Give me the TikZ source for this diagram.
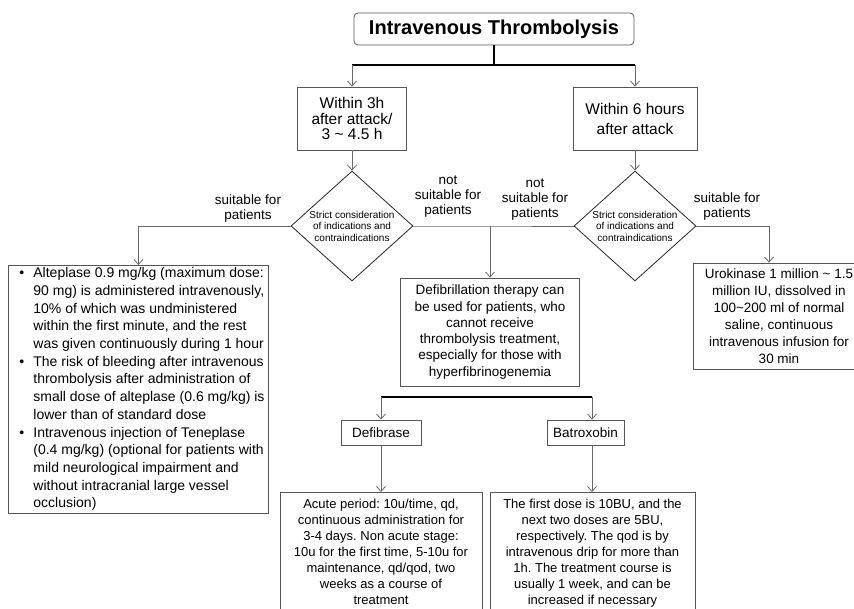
\documentclass[tikz,border=0pt]{standalone}
\usepackage{fontspec}
\setmainfont{Liberation Sans}
\usetikzlibrary{shapes.geometric,arrows.meta}
\definecolor{lc}{RGB}{105,105,105}
\definecolor{bc}{RGB}{85,85,85}
\frenchspacing
\begin{document}
\frenchspacing
\begin{tikzpicture}[x=1pt,y=-1pt,
 box/.style={draw=bc, line width=0.8pt, align=center, inner sep=0pt},
 arr/.style={draw=lc, line width=0.8pt, -{Straight Barb[length=5pt,width=9pt]}},
 ln/.style={draw=lc, line width=0.8pt},
 thk/.style={draw=black, line width=1.6pt},
 lab/.style={align=center, font=\fontsize{13.5}{15}\selectfont, inner sep=0pt},
 dia/.style={draw=black!85, line width=0.8pt, diamond, aspect=1.1, inner sep=0pt,
   minimum width=122pt, minimum height=110pt, align=center,
   font=\fontsize{10}{11.5}\selectfont},
]
\useasboundingbox (0,0) rectangle (854,608);
\begin{scope}
\clip (0,0) rectangle (854,608);
% nodes
\node[box, rounded corners=4pt, minimum width=280pt, minimum height=32pt,
  font=\fontsize{20}{24}\selectfont\bfseries] (title) at (494,29) {Intravenous Thrombolysis};
\node[box, minimum width=109pt, minimum height=63pt, font=\fontsize{15.5}{15.5}\selectfont]
  (w3) at (352,118.5) {Within 3h\\after attack/\\3 \textasciitilde{} 4.5 h};
\node[box, minimum width=124pt, minimum height=63pt, font=\fontsize{15.5}{20}\selectfont]
  (w6) at (635,118.5) {Within 6 hours\\after attack};
\node[dia] (d1) at (352,226) {Strict consideration\\of indications and\\contraindications};
\node[dia] (d2) at (635,226) {Strict consideration\\of indications and\\contraindications};
\node[lab] (ls) at (248,209) {suitable for\\patients};
\node[lab] (ln1) at (448,197) {not\\suitable for\\patients};
\node[lab] (ln2) at (535,200) {not\\suitable for\\patients};
\node[lab] (rs) at (727,207) {suitable for\\patients};
\node[box, anchor=north west, minimum height=240pt, font=\fontsize{14}{17.7}\selectfont]
  (alt) at (8,265) {\makebox[260pt][l]{\begin{tabular}{@{\hspace{11pt}}l@{}l@{}}
\makebox[14pt][l]{\textbullet} & Alteplase 0.9 mg/kg (maximum dose:\\
 & 90 mg) is administered intravenously,\\
 & 10\% of which was undministered\\
 & within the first minute, and the rest\\
 & was given continuously during 1 hour\\
\makebox[14pt][l]{\textbullet} & The risk of bleeding after intravenous\\
 & thrombolysis after administration of\\
 & small dose of alteplase (0.6 mg/kg) is\\
 & lower than of standard dose\\
\makebox[14pt][l]{\textbullet} & Intravenous injection of Teneplase\\
 & (0.4 mg/kg) (optional for patients with\\
 & mild neurological impairment and\\
 & without intracranial large vessel\\
 & occlusion)
\end{tabular}}};
\node[box, minimum width=179pt, minimum height=108pt, font=\fontsize{13.5}{16.3}\selectfont]
  (defib) at (490,332) {Defibrillation therapy can\\be used for patients, who\\cannot receive\\thrombolysis treatment,\\especially for those with\\hyperfibrinogenemia};
\node[box, minimum width=172pt, minimum height=106pt, font=\fontsize{13.5}{17}\selectfont]
  (uro) at (779,316) {Urokinase 1 million \textasciitilde{} 1.5\\million IU, dissolved in\\100\textasciitilde200 ml of normal\\saline, continuous\\intravenous infusion for\\30 min};
\node[box, minimum width=80pt, minimum height=25pt, font=\fontsize{13.5}{16}\selectfont]
  (dfb) at (381,432.5) {Defibrase};
\node[box, minimum width=77pt, minimum height=25pt, font=\fontsize{13.5}{16}\selectfont]
  (bat) at (585.5,432.5) {Batroxobin};
\node[box, anchor=north, minimum width=202pt, inner ysep=6.5pt, font=\fontsize{13}{16}\selectfont]
  (acute) at (381,492) {Acute period: 10u/time, qd,\\continuous administration for\\3-4 days. Non acute stage:\\10u for the first time, 5-10u for\\maintenance, qd/qod, two\\weeks as a course of\\treatment};
\node[box, anchor=north, minimum width=205pt, inner ysep=6.5pt, font=\fontsize{13}{16}\selectfont]
  (batb) at (592.5,492) {The first dose is 10BU, and the\\next two doses are 5BU,\\respectively. The qod is by\\intravenous drip for more than\\1h. The treatment course is\\usually 1 week, and can be\\increased if necessary};
% connectors
\coordinate (tj) at (494,65);
\coordinate (tl) at (352,65);
\coordinate (tr) at (635,65);
\draw[thk] (title.south) -- (tj);
\draw[thk] (tl) -- (tr);
\draw[arr] (tl) -- (w3.north);
\draw[arr] (tr) -- (w6.north);
\draw[arr] (w3.south) -- (d1.north);
\draw[arr] (w6.south) -- (d2.north);
\draw[arr] (d1.west) -| (alt.north);
\coordinate (mj) at (490,226);
\draw[ln] (d1.east) -- (mj) -- (d2.west);
\draw[arr] (mj) -- (defib.north);
\coordinate (rb) at (769,226);
\draw[arr] (d2.east) -| (rb |- uro.north);
\coordinate (bl) at (381,397);
\coordinate (br) at (592,397);
\draw[thk] (bl) -- (br);
\draw[arr] (bl) -- (dfb.north);
\draw[arr] (br) -- (br |- bat.north);
\draw[arr] (dfb.south) -- (acute.north);
\draw[arr] (bat.south -| br) -- (br |- batb.north);
\end{scope}
\end{tikzpicture}
\end{document}
